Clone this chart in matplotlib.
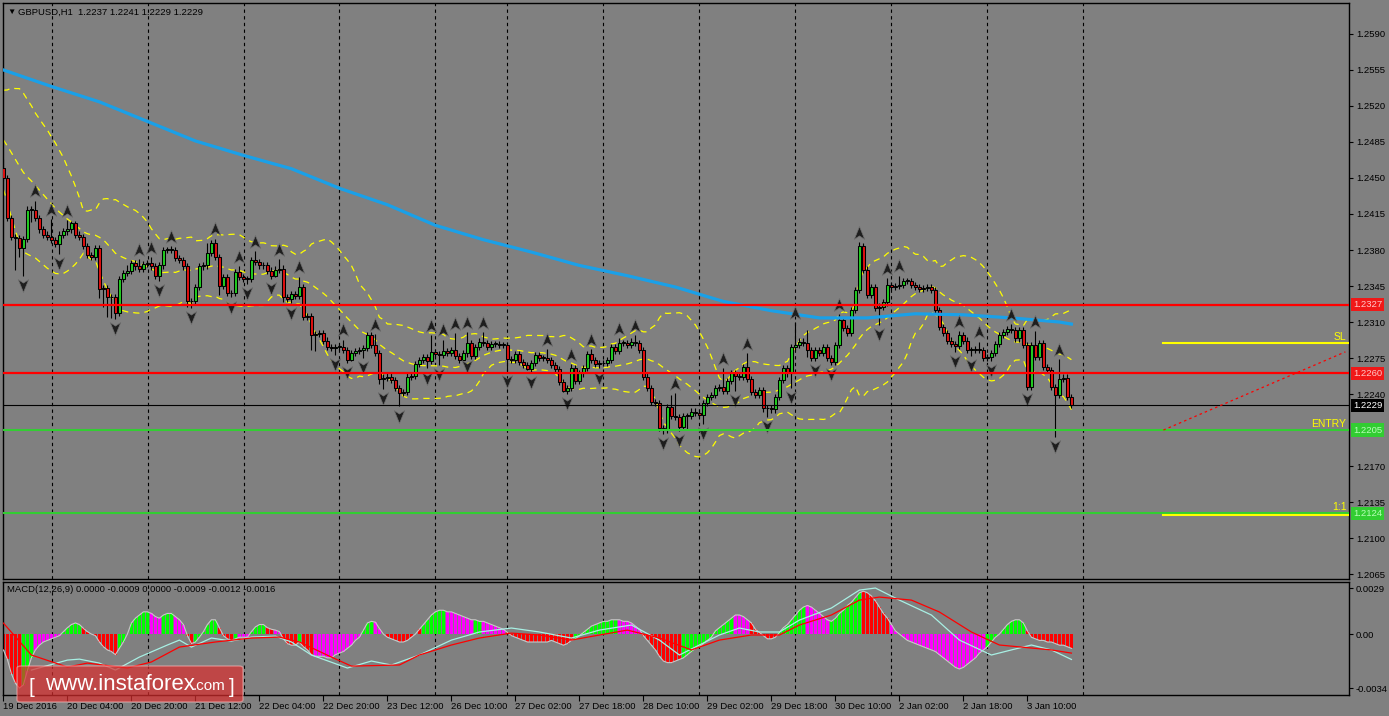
import numpy as np
import matplotlib
matplotlib.use("Agg")
import matplotlib.pyplot as plt
import matplotlib.transforms as mtransforms
from matplotlib.path import Path
from matplotlib.patches import FancyBboxPatch

plt.rcParams['font.family'] = ['Liberation Sans', 'DejaVu Sans']

# ---- data (prices in pips above 1.2000) ----
BASE = 1.2
first_open = 460
closes = [
    450, 411, 393, 392, 382, 391, 419, 419, 411, 400,
    395, 393, 390, 386, 395, 398, 400, 406, 395, 393,
    384, 375, 373, 382, 342, 343, 334, 334, 319, 352,
    358, 360, 367, 364, 362, 366, 367, 364, 355, 365,
    380, 380, 380, 372, 370, 364, 330, 330, 344, 364,
    365, 377, 387, 373, 345, 354, 338, 338, 359, 354,
    352, 352, 370, 368, 365, 365, 360, 355, 361, 362,
    334, 332, 337, 335, 344, 315, 316, 297, 298, 299,
    292, 286, 285, 286, 286, 283, 273, 280, 282, 283,
    285, 297, 288, 280, 255, 256, 257, 254, 246, 241,
    242, 257, 258, 269, 273, 276, 272, 281, 279, 278,
    282, 280, 283, 277, 273, 280, 290, 277, 286, 291,
    290, 286, 289, 289, 288, 288, 274, 273, 279, 271,
    268, 264, 270, 278, 275, 275, 273, 268, 264, 252,
    243, 246, 265, 253, 260, 265, 279, 273, 269, 270,
    270, 273, 286, 282, 290, 290, 288, 291, 290, 283,
    257, 246, 232, 231, 207, 205, 227, 219, 218, 208,
    219, 219, 223, 222, 220, 231, 237, 239, 246, 247,
    243, 253, 260, 258, 257, 266, 255, 242, 239, 244,
    226, 226, 225, 237, 254, 265, 260, 286, 288, 291,
    290, 283, 275, 283, 280, 286, 275, 271, 288, 312,
    304, 299, 322, 341, 384, 361, 336, 344, 324, 325,
    329, 346, 344, 345, 346, 350, 350, 346, 344, 342,
    343, 344, 341, 322, 305, 299, 292, 289, 287, 297,
    292, 283, 283, 284, 283, 275, 276, 280, 289, 297,
    300, 303, 302, 294, 302, 288, 247, 288, 276, 290,
    266, 263, 247, 239, 255, 256, 237, 229,
]
# wicks that stand out; the other bars carry a short 3-pip wick
long_upper_wicks = {0: 8, 6: 4, 7: 4, 8: 9, 12: 17, 16: 9, 17: 2, 18: 2, 31: 5, 34: 7,
                    37: 6, 42: 4, 51: 10, 53: 4, 59: 5, 63: 9, 69: 9, 74: 10, 85: 7,
                    93: 10, 107: 16, 110: 11, 113: 16, 116: 10, 120: 9, 136: 9, 142: 4,
                    147: 5, 154: 4, 158: 6, 167: 12, 168: 22, 180: 18, 186: 14, 198: 22,
                    201: 12, 209: 6, 214: 4, 221: 7, 224: 9, 239: 4, 244: 7, 252: 5,
                    258: 13, 264: 19}
long_lower_wicks = {3: 31, 4: 9, 5: 27, 7: 12, 14: 10, 24: 9, 25: 17, 26: 19, 27: 20,
                    28: 6, 39: 5, 46: 5, 47: 6, 54: 9, 57: 4, 61: 5, 68: 1, 70: 5, 72: 4,
                    77: 14, 78: 15, 83: 7, 87: 1, 90: 8, 94: 5, 95: 10, 99: 13, 106: 7,
                    109: 10, 116: 4, 126: 12, 131: 1, 140: 1, 149: 4, 165: 4, 169: 4,
                    171: 13, 175: 9, 183: 15, 191: 8, 197: 14, 201: 7, 219: 17, 238: 6,
                    242: 6, 247: 4, 263: 41}
prior_closes = [530, 525, 520, 512, 515, 505, 498, 500, 490, 485,
                478, 480, 472, 470, 465, 468, 462, 460, 455]

ma_bars = [0, 12, 24, 36, 48, 60, 72, 84, 96, 108, 120, 132, 144, 156, 168, 180,
           192, 204, 216, 228, 240, 252, 264, 267]
ma_values = [555, 539, 524, 505, 486, 472, 459, 440, 424, 404, 390, 378, 365, 355,
             344, 330, 321, 314, 314, 318, 317, 314, 310, 308]

up_fractals = [8, 12, 16, 34, 37, 42, 53, 59, 63, 69, 74, 85, 93, 107, 110, 113, 116,
               120, 136, 142, 147, 154, 158, 168, 180, 186, 198, 209, 214, 221, 224,
               239, 244, 252, 258, 264]
down_fractals = [5, 14, 28, 39, 47, 57, 61, 67, 72, 83, 86, 90, 95, 99, 106, 109, 116,
                 126, 132, 141, 149, 165, 169, 175, 183, 191, 197, 203, 207, 219, 238,
                 242, 247, 256, 263]

# MACD panel, values in units of 0.0001
macd_hist = [
    -10, -16, -25, -31, -34, -32, -23, -15, -10, -7,
    -5, -4, -3, -2, -1, 1.5, 4, 6, 7, 6,
    3.6, 1.5, 0, -1, -5, -8, -10, -11, -13, -9,
    -5, 0, 7, 10, 12, 14, 14, 13, 11, 10,
    12, 13, 13, 11, 9, 6, -1, -6, -5, -2,
    1.5, 6, 9, 9, 4, -1, -3, -4, -3, -2,
    -2, -2, 1.5, 4.5, 6, 6, 4, 3, 2.5, 1.5,
    -3, -6, -7, -7, -5, -8, -10, -13, -14, -14,
    -14, -15, -15, -13, -12, -11, -9, -7, -4, -2,
    2.5, 7, 8, 7.5, 3.5, 0, -2, -3, -4, -5,
    -5, -4, -2, 0, 3, 6, 9, 12, 14, 15,
    15, 14, 14, 13, 12, 11, 10, 9, 9, 8,
    8, 7, 6, 5, 4, 3, 1, -1, -2, -3,
    -4, -5, -5, -5, -5, -5, -5, -4, -5, -6,
    -7, -6, -4, -3, -1, 1, 3, 5, 6, 7,
    8, 8, 9, 9, 9, 8, 8, 7, 5, 3,
    -1, -4, -7, -10, -14, -17, -18, -18, -17, -16,
    -15, -13, -11, -9, -8, -6, -4, -2, 2, 4,
    6, 8, 10, 12, 12, 11, 9, 7, 3, 1,
    -1, -3, -3, -2, 1, 4, 6, 9, 12, 15,
    17, 18, 17, 15, 13, 11, 9, 8, 10, 13,
    15, 18, 20, 23, 26, 27, 26, 24, 21, 17,
    13, 10, 6, 2, 0, -2, -4, -5, -6, -7,
    -8, -9, -10, -11, -13, -15, -17, -19, -21, -22,
    -21, -19, -17, -15, -12, -10, -8, -5, -2, 0,
    3, 6, 8, 9, 9, 7, 2, -2, -3, -4,
    -4, -5, -5, -6, -7, -7, -8, -9,
]
hist_color_runs = [('r', 5), ('g', 3), ('m', 7), ('g', 5), ('r', 9), ('g', 8), ('m', 3),
                   ('g', 3), ('m', 3), ('r', 2), ('g', 6), ('r', 4), ('g', 1), ('m', 3),
                   ('g', 4), ('r', 2), ('m', 2), ('r', 4), ('g', 1), ('r', 3), ('m', 12),
                   ('g', 3), ('m', 2), ('r', 10), ('g', 6), ('m', 7), ('g', 2), ('m', 6),
                   ('r', 17), ('g', 11), ('m', 6), ('r', 10), ('g', 13), ('m', 4), ('r', 7),
                   ('g', 7), ('m', 6), ('g', 8), ('r', 7), ('m', 24), ('g', 10), ('r', 12)]
main_line_bars = [7, 16, 19, 24, 28, 34, 41, 44, 47, 52, 57, 62, 68, 72, 77, 86, 92, 97,
                  104, 112, 119, 127, 134, 142, 149, 157, 164, 169, 174, 179, 184, 189,
                  194, 199, 207, 214, 218, 224, 232, 239, 247, 252, 257, 262, 267]
main_line_vals = [-22.7, -16.4, -15.8, -18.3, -22.7, -14.5, -6.9, -3.8, -8.2, -2.5, -4.4,
                  -1.9, -1.3, -5, -13.2, -21.4, -17, -19.5, -13.2, -3.8, 1.3, 3.8, 1.3,
                  -2.5, 2.5, 5.7, -3.8, -13.2, -6.9, -0.6, 3.8, 1.3, 1.3, 8.8, 16.4, 27.7,
                  29, 21.4, 12, -3.8, -13.2, -10, -6.9, -10, -16]
signal_bars = [0, 7, 16, 21, 31, 37, 44, 53, 62, 69, 74, 82, 87, 99, 104, 112, 119, 127,
               134, 142, 149, 156, 164, 172, 179, 187, 194, 199, 207, 214, 219, 227, 234,
               242, 249, 257, 262, 267]
signal_vals = [6.9, -13.2, -20.8, -18.3, -21.4, -17.6, -8.2, -5, -2.5, -1.9, -5, -14.5,
               -20.2, -19.5, -13.2, -6.9, -2.5, 0.6, -0.6, -3.8, -0.6, 2.5, -2.5, -10,
               -3.8, -0.6, -0.6, 5.7, 12, 21.4, 23.3, 21.4, 13.9, 1.3, -6.9, -8.8, -10, -12]

grid_bars = [12.2, 36.2, 60.2, 84, 108, 126, 150, 174, 198, 222, 246, 270]
label_bars = [0, 16, 32, 48, 64, 80, 96, 112, 128, 144, 160, 176, 192, 208, 224, 240, 256]
time_labels = ['19 Dec 2016', '20 Dec 04:00', '20 Dec 20:00', '21 Dec 12:00',
               '22 Dec 04:00', '22 Dec 20:00', '23 Dec 12:00', '26 Dec 10:00',
               '27 Dec 02:00', '27 Dec 18:00', '28 Dec 10:00', '29 Dec 02:00',
               '29 Dec 18:00', '30 Dec 10:00', '2 Jan 02:00', '2 Jan 18:00', '3 Jan 10:00']
# 1.2205 is not listed: the ENTRY price box sits on that row
price_ticks = [1.2590, 1.2555, 1.2520, 1.2485, 1.2450, 1.2415, 1.2380, 1.2345, 1.2310,
               1.2275, 1.2240, 1.2170, 1.2135, 1.2100, 1.2065]

resistance = [1.2327, 1.2260]
last_price = 1.2229
entry, target, stop = 1.2205, 1.2124, 1.2290
plan_start_bar = 290
plan_end = (335.5, 1.2281)

# ---- derived series ----
def to_price(v):
    return BASE + np.asarray(v, dtype=float) / 10000.0

n = len(closes)
x = np.arange(n)
opens = [first_open] + closes[:-1]
hi = [max(o, c) + long_upper_wicks.get(i, 3) for i, (o, c) in enumerate(zip(opens, closes))]
lo = [min(o, c) - long_lower_wicks.get(i, 3) for i, (o, c) in enumerate(zip(opens, closes))]
o_p, c_p, h_p, l_p = to_price(opens), to_price(closes), to_price(hi), to_price(lo)

series = to_price(prior_closes + closes)
k = len(prior_closes)
mid = np.array([series[i + k - 19:i + k + 1].mean() for i in range(n)])
sd = np.array([series[i + k - 19:i + k + 1].std() for i in range(n)])

cmap = {'r': '#ff0000', 'g': '#00ff00', 'm': '#ff00ff'}
hist_colors = [cmap[c] for c, cnt in hist_color_runs for _ in range(cnt)]

# ---- figure ----
W, H = 1389, 716
BG = '#808080'
fig = plt.figure(figsize=(W / 100, H / 100), dpi=100, facecolor=BG)


def box(l, t, r, b):
    return [l / W, 1 - b / H, (r - l) / W, (b - t) / H]


ax = fig.add_axes(box(3, 3, 1349, 579), facecolor=BG)
axm = fig.add_axes(box(3, 582, 1349, 695), facecolor=BG, sharex=ax)
xmin, xmax = -0.1, 336.4
ax.set_xlim(xmin, xmax)
ax.set_ylim(1.20602, 1.26201)
axm.set_ylim(-38.4, 32.8)

for a in (ax, axm):
    for s in a.spines.values():
        s.set_color('black')
        s.set_linewidth(1.0)
    for gb in grid_bars:
        a.axvline(gb, color='black', lw=0.8, ls=(0, (3, 3)), zorder=1)
    a.yaxis.tick_right()
    a.tick_params(axis='y', direction='out', length=3, width=0.8, colors='black',
                  labelsize=6.8, pad=2)

ax.tick_params(axis='x', bottom=False, labelbottom=False)
ax.set_yticks(price_ticks)
ax.set_yticklabels(['%.4f' % t for t in price_ticks])
axm.set_yticks([29, 0, -34])
axm.set_yticklabels(['0.0029', '0.00', '-0.0034'])
axm.set_xticks(label_bars)
axm.set_xticklabels(time_labels, ha='left')
axm.tick_params(axis='x', direction='out', length=4, width=0.8, labelsize=6.8, pad=1)

# bands and moving average
dash = (0, (5, 4))
for line in (mid + 2 * sd, mid, mid - 2 * sd):
    ax.plot(x, line, color='#ffff00', lw=0.9, ls=dash, zorder=2)
ax.plot(ma_bars, to_price(ma_values), color='#1aa0e8', lw=2.3, zorder=5)

# candles
ax.vlines(x, l_p, h_p, color='black', lw=0.8, zorder=3)
body_col = ['#22cc22' if c >= o else '#e01010' for o, c in zip(opens, closes)]
ax.bar(x, np.maximum(np.abs(c_p - o_p), 0.00006), bottom=np.minimum(o_p, c_p), width=0.72,
       color=body_col, edgecolor='black', linewidth=0.75, zorder=4)

# fractal arrows
up_mark = Path([(0, 1), (0.75, -0.85), (0, -0.35), (-0.75, -0.85), (0, 1)],
               [Path.MOVETO, Path.LINETO, Path.LINETO, Path.LINETO, Path.CLOSEPOLY])
down_mark = Path([(0, -1), (0.75, 0.85), (0, 0.35), (-0.75, 0.85), (0, -1)],
                 [Path.MOVETO, Path.LINETO, Path.LINETO, Path.LINETO, Path.CLOSEPOLY])
ax.plot(up_fractals, h_p[up_fractals] + 0.0009, ls='none', marker=up_mark, ms=10,
        mfc='#1e1e1e', mec='#707070', mew=0.5, zorder=6)
ax.plot(down_fractals, l_p[down_fractals] - 0.0009, ls='none', marker=down_mark, ms=10,
        mfc='#1e1e1e', mec='#707070', mew=0.5, zorder=6)

# levels
for lvl in resistance:
    ax.axhline(lvl, color='#ff0000', lw=1.6, zorder=7)
ax.axhline(last_price, color='black', lw=0.8, zorder=7)
ax.axhline(entry, color='#32cd32', lw=1.5, zorder=7)
ax.axhline(target, color='#32cd32', lw=1.5, zorder=7)
ax.plot([plan_start_bar, xmax], [stop, stop], color='#ffff00', lw=1.5, zorder=7)
ax.plot([plan_start_bar, xmax], [target - 0.00012, target - 0.00012], color='#ffff00',
        lw=1.5, zorder=7)
ax.plot([plan_start_bar, plan_end[0]], [entry, plan_end[1]], color='#ff0000', lw=0.9,
        ls=(0, (2, 2.5)), zorder=7)

yell = dict(color='#ffff00', fontsize=7.5, ha='right', va='bottom', zorder=8)
ax.text(xmax - 0.6, stop + 0.0001, 'SL', **yell)
ax.text(xmax - 0.6, entry + 0.0001, 'ENTRY', **yell)
ax.text(xmax - 0.6, target + 0.0001, '1:1', **yell)

rt = mtransforms.blended_transform_factory(ax.transAxes, ax.transData)
for val, fc, tc in [(1.2327, '#f01818', '#ffc8c8'), (1.2260, '#f01818', '#ffc8c8'),
                    (1.2229, '#000000', '#ffffff'), (1.2205, '#32cd32', '#b8ffb8'),
                    (1.2124, '#32cd32', '#b8ffb8')]:
    ax.text(1.003, val, '%.4f' % val, transform=rt, color=tc, fontsize=6.8, ha='left',
            va='center', clip_on=False, zorder=9,
            bbox=dict(boxstyle='square,pad=0.22', fc=fc, ec='none'))

# MACD panel
axm.bar(x, macd_hist, width=0.62, color=hist_colors, linewidth=0, zorder=2)
axm.plot(x, macd_hist, color='#c8c8c8', lw=0.8, zorder=3)
axm.plot(main_line_bars, main_line_vals, color='#a8f0e4', lw=0.9, zorder=4)
axm.plot(signal_bars, signal_vals, color='#ff0000', lw=0.9, zorder=4)

# headers
fig.text(7 / W, 1 - 12 / H, '\u25bc', fontsize=6, color='black', va='center')
fig.text(18 / W, 1 - 12 / H, 'GBPUSD,H1  1.2237 1.2241 1.2229 1.2229', fontsize=6.8,
         color='black', va='center')
fig.text(7 / W, 1 - 590 / H, 'MACD(12,26,9) 0.0000 -0.0009 0.0000 -0.0009 -0.0012 -0.0016',
         fontsize=6.8, color='black', va='center')

# watermark
fig.patches.append(FancyBboxPatch((17 / W, 1 - 702 / H), 226 / W, 36 / H,
                                  boxstyle='round,pad=0,rounding_size=0.003',
                                  transform=fig.transFigure, fc=(0.86, 0.18, 0.18, 0.7),
                                  ec=(1, 0.75, 0.75, 0.5), lw=1.0, zorder=20))
wm = dict(color='white', va='baseline', zorder=21)
fig.text(29 / W, 1 - 693 / H, '[', fontsize=15, **wm)
fig.text(45 / W, 1 - 690 / H, 'www.instaforex', fontsize=16, **wm)
fig.text(193 / W, 1 - 690 / H, '.com', fontsize=11, **wm)
fig.text(229 / W, 1 - 693 / H, ']', fontsize=15, **wm)

fig.savefig('out.png', dpi=100, facecolor=BG)
